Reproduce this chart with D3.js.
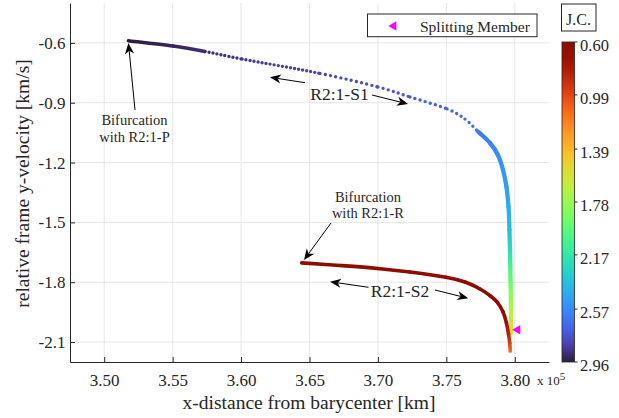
<!DOCTYPE html>
<html>
<head>
<meta charset="utf-8">
<script src="https://cdn.jsdelivr.net/npm/d3@7"></script>
<style>
  body { margin: 0; background: #fff; }
  svg { display: block; font-family: "Liberation Serif", Tinos, "Times New Roman", "DejaVu Serif", serif; }
</style>
</head>
<body>
<div id="chart"></div>
<script>
// Branch R2:1-S1 : x-distance [10^5 km], y-velocity [km/s], Jacobi constant
const s1X = [3.5176, 3.5503, 3.5736, 3.6007, 3.6577, 3.7000, 3.7234, 3.7505, 3.7636, 3.7731, 3.7819, 3.7877,
  3.7914, 3.7939, 3.7954, 3.7961, 3.7965, 3.7967, 3.7969, 3.7971, 3.7972, 3.7974, 3.7974];
const s1Y = [-0.589, -0.616, -0.643, -0.681, -0.753, -0.821, -0.871, -0.931, -0.982, -1.044, -1.102, -1.162,
  -1.237, -1.321, -1.421, -1.538, -1.638, -1.714, -1.789, -1.864, -1.939, -2.014, -2.055];
const s1JC = [2.96, 2.93, 2.90, 2.87, 2.81, 2.77, 2.75, 2.72, 2.69, 2.64, 2.60, 2.56,
  2.53, 2.50, 2.45, 2.38, 2.24, 2.08, 1.95, 1.82, 1.70, 1.60, 1.55];

// Branch R2:1-S2
const s2X = [3.6443, 3.6723, 3.6998, 3.7234, 3.7497, 3.7636, 3.7746, 3.7819, 3.7870, 3.7914, 3.7939, 3.7954,
  3.7963, 3.7967];
const s2Y = [-1.703, -1.716, -1.731, -1.749, -1.775, -1.799, -1.834, -1.867, -1.899, -1.949, -2.004, -2.060,
  -2.105, -2.145];
const s2JC = [0.60, 0.60, 0.61, 0.61, 0.62, 0.62, 0.63, 0.64, 0.65, 0.67, 0.72, 0.82, 0.96, 1.10];

// Splitting member
const splitX = [3.8011];
const splitY = [-2.038];

// Ticks
const xTicks = [3.50, 3.55, 3.60, 3.65, 3.70, 3.75, 3.80];
const yTicks = [-0.6, -0.9, -1.2, -1.5, -1.8, -2.1];
const jcTicks = [0.60, 0.99, 1.39, 1.78, 2.17, 2.57, 2.96];

// Annotation arrows, tail -> tip, in data units
const arrowTailX = [3.5225, 3.6467, 3.6957, 3.6931, 3.7417, 3.6657];
const arrowTailY = [-0.9365, -0.7996, -0.8613, -1.8255, -1.8390, -1.5031];
const arrowTipX = [3.5177, 3.6211, 3.7220, 3.6650, 3.7660, 3.6460];
const arrowTipY = [-0.6006, -0.7725, -0.9064, -1.7974, -1.8806, -1.6886];

const width = 619;
const height = 418;
const ink = '#262626';
const serif = '"Liberation Serif", Tinos, "Times New Roman", "DejaVu Serif", serif';

const svg = d3.select('#chart')
  .append('svg')
  .attr('width', width)
  .attr('height', height);
const defs = svg.append('defs');

// Scales
const x = d3.scaleLinear().domain([3.475, 3.825]).range([70, 549]);
const y = d3.scaleLinear().domain([-2.2, -0.4]).range([362, 3]);
const colour = d3.scaleSequential((t) => d3.interpolateTurbo(0.01 + 0.99 * t)).domain([2.96, 0.60]);

// Grid
svg.append('g')
  .selectAll('line')
  .data(xTicks)
  .enter()
  .append('line')
  .attr('x1', (d) => x(d))
  .attr('x2', (d) => x(d))
  .attr('y1', y.range()[1])
  .attr('y2', y.range()[0])
  .attr('stroke', '#e6e6e6');
svg.append('g')
  .selectAll('line')
  .data(yTicks)
  .enter()
  .append('line')
  .attr('x1', x.range()[0])
  .attr('x2', x.range()[1])
  .attr('y1', (d) => y(d))
  .attr('y2', (d) => y(d))
  .attr('stroke', '#e6e6e6');

// Axes
const xAxis = svg.append('g')
  .attr('transform', `translate(0,${y.range()[0]})`)
  .call(d3.axisBottom(x).tickValues(xTicks).tickSizeInner(-5).tickSizeOuter(0).tickPadding(12)
    .tickFormat((d) => d.toFixed(2)));
const yAxis = svg.append('g')
  .attr('transform', `translate(${x.range()[0]},0)`)
  .call(d3.axisLeft(y).tickValues(yTicks).tickSizeInner(-5).tickSizeOuter(0).tickPadding(4.5)
    .tickFormat((d) => d.toFixed(1)));
[xAxis, yAxis].forEach((g) => {
  g.attr('font-family', serif);
  g.select('.domain').attr('stroke', ink);
  g.selectAll('.tick line').attr('stroke', ink);
  g.selectAll('.tick text')
    .attr('fill', ink)
    .style('font-size', '17px');
});

// Branch drawing: one smooth (Catmull-Rom) piece per pair of points, each with its own colour gradient
let gradId = 0;
function drawBranch(xs, ys, jcs, styleFor) {
  const g = svg.append('g');
  const pts = xs.map((d, i) => [x(d), y(ys[i])]);
  const n = pts.length;
  for (let i = 0; i < n - 1; i++) {
    const p0 = pts[Math.max(i - 1, 0)];
    const p1 = pts[i];
    const p2 = pts[i + 1];
    const p3 = pts[Math.min(i + 2, n - 1)];
    const c1 = [p1[0] + (p2[0] - p0[0]) / 6, p1[1] + (p2[1] - p0[1]) / 6];
    const c2 = [p2[0] - (p3[0] - p1[0]) / 6, p2[1] - (p3[1] - p1[1]) / 6];
    const id = `seg${gradId++}`;
    const grad = defs.append('linearGradient')
      .attr('id', id)
      .attr('gradientUnits', 'userSpaceOnUse')
      .attr('x1', p1[0]).attr('y1', p1[1])
      .attr('x2', p2[0]).attr('y2', p2[1]);
    grad.append('stop').attr('offset', 0).attr('stop-color', colour(jcs[i]));
    grad.append('stop').attr('offset', 1).attr('stop-color', colour(jcs[i + 1]));
    const s = styleFor(i);
    g.append('path')
      .attr('d', `M${p1}C${c1} ${c2} ${p2}`)
      .attr('fill', 'none')
      .attr('stroke', `url(#${id})`)
      .attr('stroke-width', s.w)
      .attr('stroke-linecap', 'round')
      .attr('stroke-dasharray', s.dash || null);
  }
}

// S1: dense at the start, sparse markers in the middle, dense on the bend
drawBranch(s1X, s1Y, s1JC, (i) => {
  if (i < 2) return { w: 3.5 };
  if (i < 4) return { w: 3.4, dash: '0,4.1' };
  if (i < 9) return { w: 3.4, dash: '0,5.3' };
  return { w: 4.3 };
});
drawBranch(s2X, s2Y, s2JC, () => ({ w: 3.6 }));

// Left-pointing triangle
const triangle = (cx, cy) => `M${cx - 4},${cy}L${cx + 4},${cy - 4.7}L${cx + 4},${cy + 4.7}Z`;
svg.append('g')
  .selectAll('path')
  .data(splitX.map((d, i) => [d, splitY[i]]))
  .enter()
  .append('path')
  .attr('d', (d) => triangle(x(d[0]), y(d[1])))
  .attr('fill', '#ff00ff');

// Arrows
function arrow(g, x1, y1, x2, y2) {
  const a = Math.atan2(y2 - y1, x2 - x1);
  const c = Math.cos(a);
  const s = Math.sin(a);
  const L = 11;
  const W = 4.6;
  const N = 3.2;
  const bx = x2 - L * c;
  const by = y2 - L * s;
  const nx = x2 - (L - N) * c;
  const ny = y2 - (L - N) * s;
  g.append('line')
    .attr('x1', x1).attr('y1', y1)
    .attr('x2', nx).attr('y2', ny)
    .attr('stroke', '#000')
    .attr('stroke-width', 1);
  g.append('path')
    .attr('d', `M${x2},${y2}L${bx - W * s},${by + W * c}L${nx},${ny}L${bx + W * s},${by - W * c}Z`)
    .attr('fill', '#000');
}
const arrows = svg.append('g');
arrowTailX.forEach((d, i) => {
  arrow(arrows, x(d), y(arrowTailY[i]), x(arrowTipX[i]), y(arrowTipY[i]));
});

// Annotation text
function label(lines, dx, dy, size) {
  const t = svg.append('text')
    .attr('x', x(dx))
    .attr('y', y(dy))
    .attr('text-anchor', 'middle')
    .attr('fill', ink)
    .style('font-size', `${size}px`);
  lines.forEach((l, i) => {
    t.append('tspan')
      .attr('x', x(dx))
      .attr('dy', i === 0 ? 0 : 16.5)
      .text(l);
  });
}
label(['Bifurcation', 'with R2:1-P'], 3.5221, -1.0117, 14.5);
label(['Bifurcation', 'with R2:1-R'], 3.6927, -1.3963, 14.5);
label(['R2:1-S1'], 3.6719, -0.8863, 17.5);
label(['R2:1-S2'], 3.7161, -1.8726, 17.5);

// Axis titles
svg.append('text')
  .attr('x', 309)
  .attr('y', 408.5)
  .attr('text-anchor', 'middle')
  .attr('fill', ink)
  .style('font-size', '19.5px')
  .text('x-distance from barycenter [km]');
svg.append('text')
  .attr('transform', 'translate(28.5,183.5) rotate(-90)')
  .attr('text-anchor', 'middle')
  .attr('fill', ink)
  .style('font-size', '19.5px')
  .text('relative frame y-velocity [km/s]');

// Exponent
const expo = svg.append('text')
  .attr('x', 537)
  .attr('y', 385)
  .attr('fill', ink)
  .style('font-size', '13px')
  .text('x 10');
expo.append('tspan')
  .attr('dy', -5)
  .style('font-size', '11px')
  .text('5');

// Legend
svg.append('rect')
  .attr('x', 367.5).attr('y', 14)
  .attr('width', 169.5).attr('height', 22.7)
  .attr('fill', '#fff')
  .attr('stroke', ink);
svg.append('path')
  .attr('d', triangle(392.3, 26))
  .attr('fill', '#ff00ff');
svg.append('text')
  .attr('x', 420)
  .attr('y', 31.5)
  .attr('fill', ink)
  .style('font-size', '15.5px')
  .text('Splitting Member');

// Colour bar
const cb = d3.scaleLinear().domain([0.60, 2.96]).range([42, 362]);
const cbGrad = defs.append('linearGradient')
  .attr('id', 'cbgrad')
  .attr('x1', 0).attr('y1', 0)
  .attr('x2', 0).attr('y2', 1);
d3.range(0, 1.0001, 0.05).forEach((t) => {
  cbGrad.append('stop')
    .attr('offset', t)
    .attr('stop-color', colour(0.60 + t * (2.96 - 0.60)));
});
svg.append('rect')
  .attr('x', 562).attr('y', cb.range()[0])
  .attr('width', 12.5).attr('height', cb.range()[1] - cb.range()[0])
  .attr('fill', 'url(#cbgrad)')
  .attr('stroke', ink)
  .attr('stroke-width', 0.8);
const cbTicks = svg.append('g');
jcTicks.forEach((d) => {
  cbTicks.append('line')
    .attr('x1', 574.5).attr('x2', 577.5)
    .attr('y1', cb(d)).attr('y2', cb(d))
    .attr('stroke', ink);
  cbTicks.append('text')
    .attr('x', 580)
    .attr('y', cb(d) + 9)
    .attr('fill', ink)
    .style('font-size', '16.5px')
    .text(d.toFixed(2));
});
svg.append('rect')
  .attr('x', 561.5).attr('y', 4)
  .attr('width', 34.5).attr('height', 27)
  .attr('fill', '#fff')
  .attr('stroke', ink);
svg.append('text')
  .attr('x', 578.5)
  .attr('y', 24.5)
  .attr('text-anchor', 'middle')
  .attr('fill', ink)
  .style('font-size', '16px')
  .text('J.C.');
</script>
</body>
</html>
